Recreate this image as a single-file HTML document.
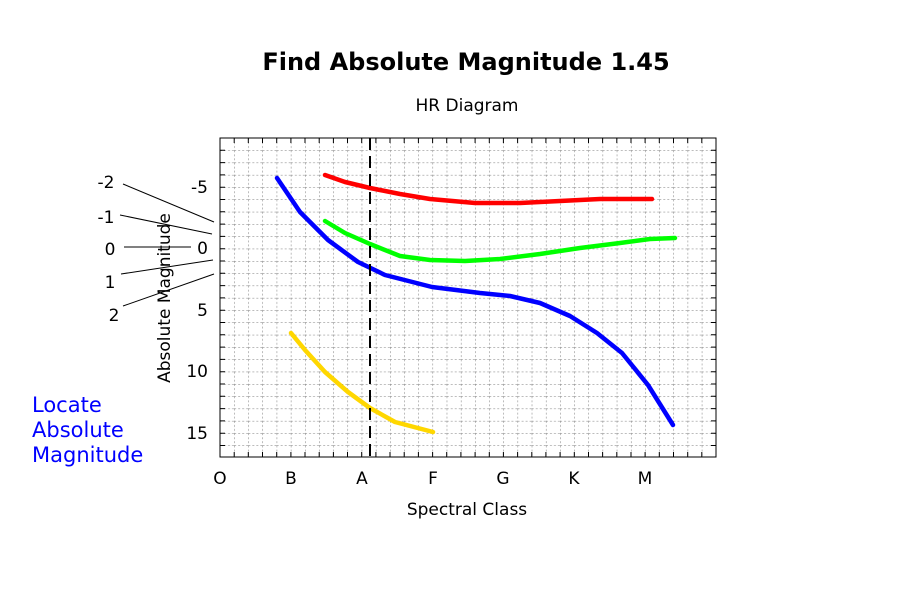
<!DOCTYPE html>
<html><head><style>body{margin:0;background:#fff}</style></head><body>
<svg width="900" height="600" xmlns="http://www.w3.org/2000/svg" font-family="DejaVu Sans, sans-serif">
<defs><pattern id="g" x="220" y="138" width="14.171" height="12.3" patternUnits="userSpaceOnUse">
<path d="M0 0V12.3M0 0H14.171" stroke="#777" stroke-width="1" stroke-dasharray="2,2" fill="none"/></pattern></defs>
<rect x="220" y="138" width="496" height="319" fill="url(#g)"/>
<g stroke="#000" stroke-width="1">
<path d="M234.2 138v5M248.3 138v5M262.5 138v5M276.7 138v5M290.9 138v5M305 138v5M319.2 138v5M333.4 138v5M347.5 138v5M361.7 138v5M375.9 138v5M390 138v5M404.2 138v5M418.4 138v5M432.6 138v5M446.7 138v5M460.9 138v5M475.1 138v5M489.3 138v5M503.4 138v5M517.6 138v5M531.8 138v5M545.9 138v5M560.1 138v5M574.3 138v5M588.5 138v5M602.6 138v5M616.8 138v5M631 138v5M645.1 138v5M659.3 138v5M673.5 138v5M687.7 138v5M701.8 138v5"/>
<path d="M234.2 457v-5M248.3 457v-5M262.5 457v-5M276.7 457v-5M290.9 457v-5M305 457v-5M319.2 457v-5M333.4 457v-5M347.5 457v-5M361.7 457v-5M375.9 457v-5M390 457v-5M404.2 457v-5M418.4 457v-5M432.6 457v-5M446.7 457v-5M460.9 457v-5M475.1 457v-5M489.3 457v-5M503.4 457v-5M517.6 457v-5M531.8 457v-5M545.9 457v-5M560.1 457v-5M574.3 457v-5M588.5 457v-5M602.6 457v-5M616.8 457v-5M631 457v-5M645.1 457v-5M659.3 457v-5M673.5 457v-5M687.7 457v-5M701.8 457v-5"/>
<path d="M220 150.3h5M220 162.6h5M220 174.9h5M220 187.2h5M220 199.5h5M220 211.8h5M220 224.1h5M220 236.4h5M220 248.7h5M220 261h5M220 273.3h5M220 285.6h5M220 297.9h5M220 310.2h5M220 322.5h5M220 334.8h5M220 347.1h5M220 359.4h5M220 371.7h5M220 384h5M220 396.3h5M220 408.6h5M220 420.9h5M220 433.2h5M220 445.5h5"/>
<path d="M716 150.3h-5M716 162.6h-5M716 174.9h-5M716 187.2h-5M716 199.5h-5M716 211.8h-5M716 224.1h-5M716 236.4h-5M716 248.7h-5M716 261h-5M716 273.3h-5M716 285.6h-5M716 297.9h-5M716 310.2h-5M716 322.5h-5M716 334.8h-5M716 347.1h-5M716 359.4h-5M716 371.7h-5M716 384h-5M716 396.3h-5M716 408.6h-5M716 420.9h-5M716 433.2h-5M716 445.5h-5"/>
<rect x="220" y="138" width="496" height="319" fill="none"/>
</g>
<g fill="none" stroke-width="4.5" stroke-linecap="round" stroke-linejoin="round">
<polyline stroke="#f00" points="325,175 345,182 370,188 400,194 430,199 475,203 520,203 560,201 600,199 652,199"/>
<polyline stroke="#0f0" points="325,221 345,233 370,244 400,256 430,260 465,261 500,259 540,254 580,248 620,243 650,239 675,238"/>
<polyline stroke="#00f" points="277,178 300,212 328,240 358,262 385,275 432,287 480,293 510,296 540,303 570,316 597,333 622,353 648,385 673,425"/>
<polyline stroke="#ffd700" points="291,333 305,350 325,372 348,392 370,408 395,422 433,432"/>
</g>
<line x1="370" y1="138" x2="370" y2="457" stroke="#000" stroke-width="2" stroke-dasharray="12,6"/>
<g font-size="17" text-anchor="middle">
<text x="220" y="484">O</text><text x="291" y="484">B</text><text x="362" y="484">A</text><text x="433" y="484">F</text><text x="503" y="484">G</text><text x="574" y="484">K</text><text x="645" y="484">M</text>
</g>
<g font-size="17" text-anchor="end">
<text x="208" y="193">-5</text><text x="208" y="254">0</text><text x="208" y="316">5</text><text x="208" y="377">10</text><text x="208" y="439">15</text>
</g>
<g font-size="17" text-anchor="middle">
<text x="106" y="188">-2</text><text x="106" y="223">-1</text><text x="110" y="255">0</text><text x="110" y="288">1</text><text x="114" y="321">2</text>
</g>
<g stroke="#000" stroke-width="1">
<line x1="123" y1="184" x2="214" y2="222"/><line x1="120" y1="215" x2="212" y2="234"/><line x1="124" y1="247" x2="191" y2="247"/><line x1="121" y1="274" x2="213" y2="260"/><line x1="123" y1="306" x2="214" y2="274"/>
</g>
<text x="466" y="70" font-size="24" font-weight="bold" text-anchor="middle">Find Absolute Magnitude 1.45</text>
<text x="467" y="111" font-size="17" text-anchor="middle">HR Diagram</text>
<text x="467" y="515" font-size="17" text-anchor="middle">Spectral Class</text>
<text transform="translate(170,298) rotate(-90)" font-size="17" text-anchor="middle">Absolute Magnitude</text>
<g font-size="21" fill="#00f"><text x="32" y="412">Locate</text><text x="32" y="437">Absolute</text><text x="32" y="462">Magnitude</text></g>
</svg>
</body></html>
